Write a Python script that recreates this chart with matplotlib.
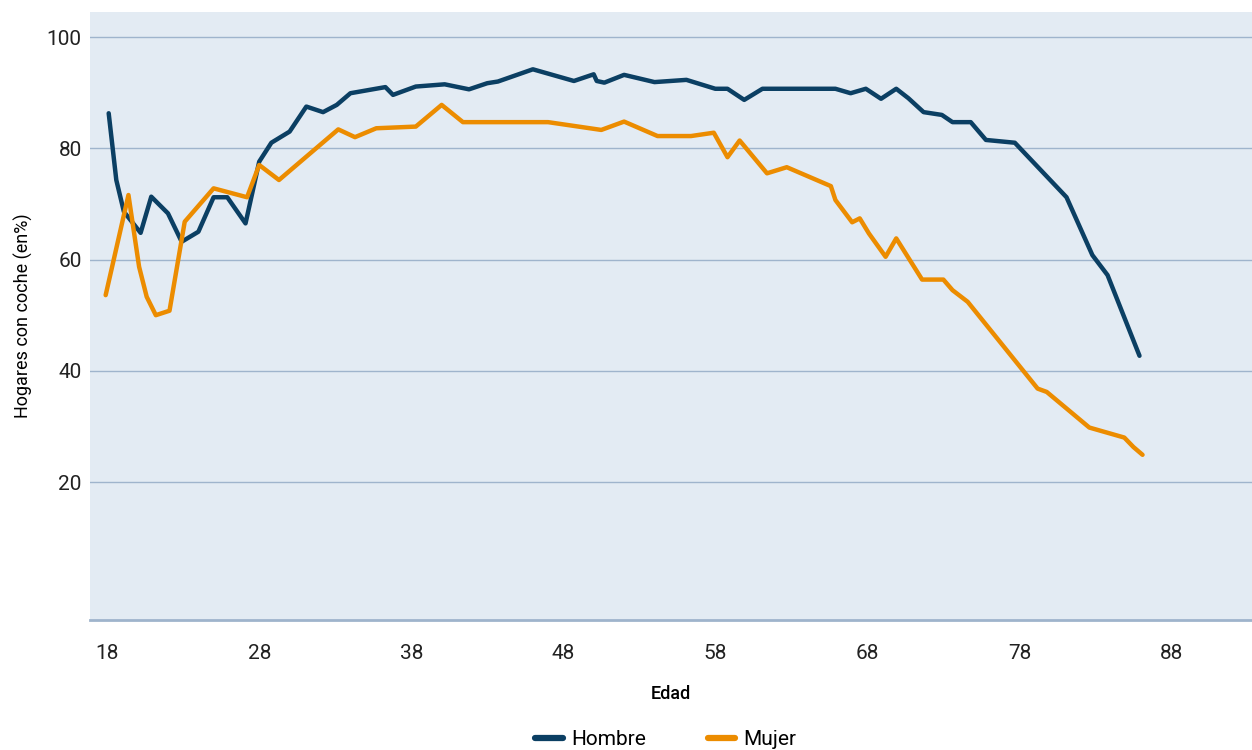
import matplotlib.pyplot as plt

# Hombre
edad_h = [18.1, 18.6, 19.1, 20.2, 20.9, 22.0, 22.9, 24.0, 25.0, 25.9, 27.1, 28.0, 28.8,
          30.0, 31.1, 32.2, 33.1, 34.0, 36.3, 36.8, 38.3, 40.2, 41.8, 43.0, 43.7, 46.0,
          48.7, 50.0, 50.2, 50.7, 52.0, 54.0, 56.1, 58.0, 58.8, 59.9, 61.1, 65.9, 66.9,
          67.9, 68.9, 69.9, 70.7, 71.7, 72.9, 73.6, 74.8, 75.8, 77.7, 81.1, 82.8, 83.8, 85.9]
hombre = [86.3, 74.3, 68.6, 64.8, 71.3, 68.3, 63.2, 65.0, 71.2, 71.2, 66.5, 77.6, 81.0,
          83.0, 87.5, 86.5, 87.8, 89.9, 91.0, 89.6, 91.1, 91.5, 90.6, 91.7, 92.0, 94.2,
          92.1, 93.3, 92.1, 91.8, 93.2, 91.9, 92.3, 90.7, 90.7, 88.7, 90.7, 90.7, 89.9,
          90.7, 88.9, 90.7, 89.0, 86.5, 86.0, 84.7, 84.7, 81.5, 81.0, 71.2, 60.8, 57.2, 42.7]

# Mujer
edad_m = [17.9, 19.4, 20.1, 20.6, 21.2, 22.1, 23.1, 25.0, 27.2, 28.0, 29.3, 33.2, 34.3,
          35.7, 38.3, 40.0, 41.4, 47.0, 50.5, 52.0, 54.2, 56.4, 57.9, 58.8, 59.6, 61.4,
          62.7, 65.6, 65.9, 67.0, 67.5, 68.1, 69.2, 69.9, 71.6, 73.0, 73.6, 74.6, 79.2,
          79.8, 82.6, 84.9, 85.5, 86.1]
mujer = [53.6, 71.6, 58.7, 53.3, 50.0, 50.8, 66.8, 72.8, 71.2, 77.0, 74.3, 83.4, 82.0,
         83.6, 83.9, 87.8, 84.7, 84.7, 83.3, 84.8, 82.2, 82.2, 82.8, 78.4, 81.4, 75.5,
         76.6, 73.2, 70.7, 66.7, 67.4, 64.7, 60.5, 63.8, 56.4, 56.4, 54.5, 52.4, 36.8,
         36.2, 29.8, 28.0, 26.3, 24.9]

x_ticks = [18, 28, 38, 48, 58, 68, 78, 88]
y_ticks = [20, 40, 60, 80, 100]

plt.rcParams['font.family'] = ['Roboto', 'DejaVu Sans']

fig = plt.figure(figsize=(12.52, 7.5), dpi=100)
ax = fig.add_axes([0.072, 0.1733, 0.928, 0.8107])
ax.set_facecolor('#e3ebf3')

ax.plot(edad_h, hombre, color='#0b3f63', lw=3.2, solid_capstyle='round',
        solid_joinstyle='round', label='Hombre', zorder=3)
ax.plot(edad_m, mujer, color='#ec8c00', lw=3.2, solid_capstyle='round',
        solid_joinstyle='round', label='Mujer', zorder=3)

ax.set_xlim(16.88, 93.3)
ax.set_ylim(-4.8, 104.5)
ax.set_xticks(x_ticks)
ax.set_yticks(y_ticks)
ax.grid(axis='y', color='#9fb4cc', lw=1)
ax.set_axisbelow(True)
for s in ['top', 'right', 'left']:
    ax.spines[s].set_visible(False)
ax.spines['bottom'].set_color('#9fb4cc')
ax.spines['bottom'].set_linewidth(2)
ax.tick_params(length=0, labelsize=15, colors='#222222')
ax.tick_params(axis='x', pad=17)
ax.tick_params(axis='y', pad=6)

ax.set_xlabel('Edad', fontsize=13, fontweight='medium', labelpad=16)
ax.set_ylabel('Hogares con coche (en%)', fontsize=13, labelpad=10)

fig.legend(loc='center', bbox_to_anchor=(0.532, 0.014), ncol=2, frameon=False,
           fontsize=15, handlelength=1.3, columnspacing=3.0, handletextpad=0.4)
for h in fig.legends[0].legend_handles:
    h.set_linewidth(4.5)

fig.savefig('out.png', dpi=100)
